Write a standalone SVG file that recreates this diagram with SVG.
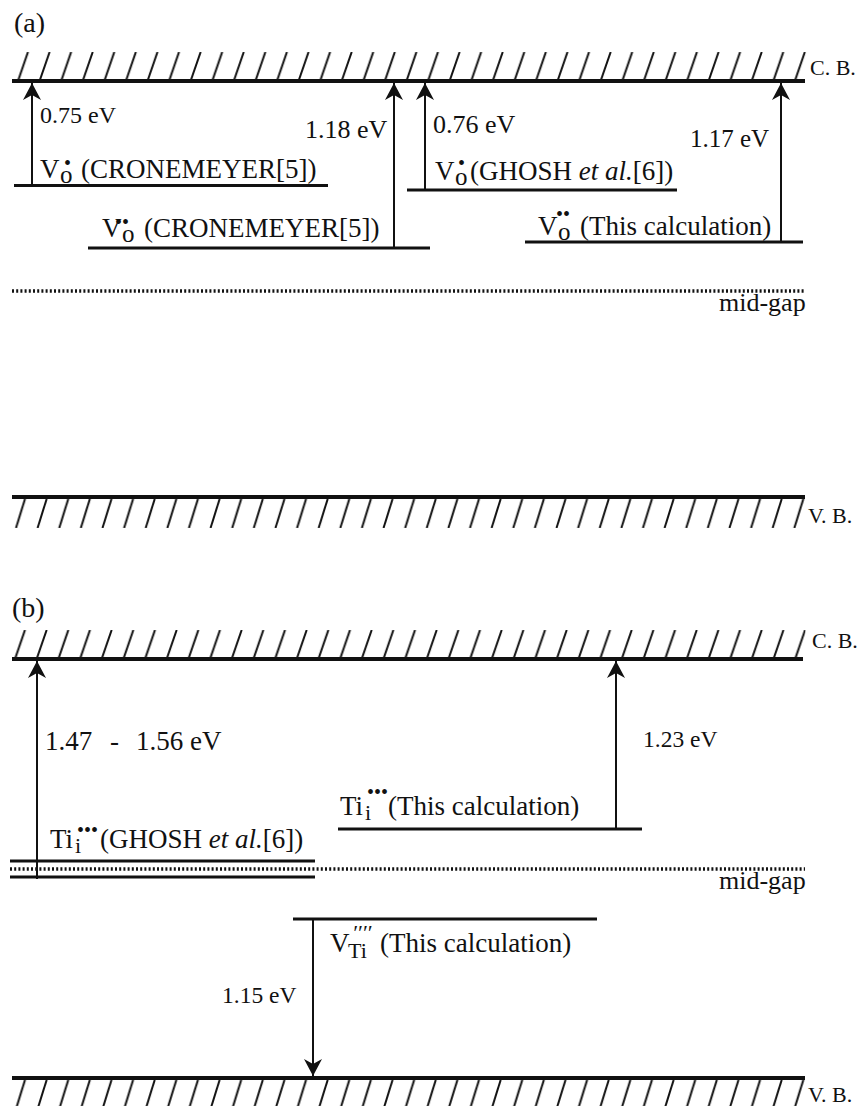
<svg xmlns="http://www.w3.org/2000/svg" width="866" height="1106" viewBox="0 0 866 1106" font-family="'Liberation Serif','Times New Roman',serif">
<style>
text{font-family:"Liberation Serif","Times New Roman",serif;fill:#111}
.band{stroke:#111;stroke-width:4;fill:none}
.lvl{stroke:#111;stroke-width:3;fill:none}
.dot{stroke:#111;stroke-width:3.5;stroke-dasharray:2 2.2;fill:none}
.arr{stroke:#111;stroke-width:2;fill:none;marker-end:url(#ah)}
.lab{font-size:27px}
.band-t{font-size:22px}
.bul{font-size:20px}
</style>
<defs>
<marker id="ah" markerUnits="userSpaceOnUse" viewBox="0 0 17 18" markerWidth="17" markerHeight="18" refX="17" refY="9" orient="auto">
<path d="M0,0 L17,9 L0,18 L5,9 z" fill="#111"/>
</marker>
<pattern id="hcA" patternUnits="userSpaceOnUse" x="16.5" y="52" width="21.58" height="29">
<line x1="1.5" y1="29" x2="11.5" y2="0" stroke="#111" stroke-width="2"/>
</pattern>
<pattern id="hvA" patternUnits="userSpaceOnUse" x="14.5" y="499" width="21.62" height="29">
<line x1="10.5" y1="0" x2="1.5" y2="29" stroke="#111" stroke-width="2"/>
</pattern>
<pattern id="hcB" patternUnits="userSpaceOnUse" x="13.5" y="630" width="21.67" height="29">
<line x1="1.5" y1="29" x2="11.5" y2="0" stroke="#111" stroke-width="2"/>
</pattern>
<pattern id="hvB" patternUnits="userSpaceOnUse" x="14.5" y="1080" width="21.62" height="29">
<line x1="10.5" y1="0" x2="1.5" y2="29" stroke="#111" stroke-width="2"/>
</pattern>
</defs>

<g id="panel-a-title"><text x="14" y="32" font-size="28">(a)</text></g>

<g id="cb-a">
<rect x="16.5" y="52" width="790" height="29" fill="url(#hcA)"/>
<line class="band" x1="12" y1="81" x2="805" y2="81"/>
<text class="band-t" x="810" y="75">C. B.</text>
</g>

<g id="lvl-a1">
<line class="lvl" x1="14" y1="185.5" x2="328" y2="185.5"/>
<text class="lab" x="40" y="178">V<tspan x="60" y="183" font-size="25">o</tspan><tspan class="bul" x="64" y="170">•</tspan><tspan x="81" y="178">(CRONEMEYER[5])</tspan></text>
</g>

<g id="lvl-a2">
<line class="lvl" x1="88" y1="248" x2="430" y2="248"/>
<text class="lab" x="102" y="237">V<tspan x="122" y="242" font-size="25">o</tspan><tspan class="bul" x="115" y="229">••</tspan><tspan x="144" y="237">(CRONEMEYER[5])</tspan></text>
</g>

<g id="lvl-a3">
<line class="lvl" x1="407" y1="190" x2="677" y2="190"/>
<text class="lab" x="435" y="180">V<tspan x="455" y="185" font-size="25">o</tspan><tspan class="bul" x="458" y="170">•</tspan><tspan x="470" y="180">(GHOSH <tspan font-style="italic">et al.</tspan>[6])</tspan></text>
</g>

<g id="lvl-a4">
<line class="lvl" x1="525" y1="242" x2="803" y2="242"/>
<text class="lab" x="538" y="235">V<tspan x="558" y="240" font-size="25">o</tspan><tspan class="bul" x="556" y="221">••</tspan><tspan x="580" y="235">(This calculation)</tspan></text>
</g>

<g id="midgap-a">
<line class="dot" x1="12" y1="291" x2="805" y2="291"/>
<text x="719" y="311" font-size="26">mid-gap</text>
</g>

<g id="vb-a">
<line class="band" x1="12" y1="497" x2="805" y2="497"/>
<rect x="14.5" y="499" width="792" height="29" fill="url(#hvA)"/>
<text class="band-t" x="808" y="523">V. B.</text>
</g>

<g id="panel-b-title"><text x="12" y="617" font-size="28">(b)</text></g>

<g id="cb-b">
<rect x="13.5" y="630" width="792" height="29" fill="url(#hcB)"/>
<line class="band" x1="12" y1="659" x2="803" y2="659"/>
<text class="band-t" x="812" y="648">C. B.</text>
</g>

<g id="lvl-b-ti-calc">
<line class="lvl" x1="338" y1="829" x2="642" y2="829"/>
<text class="lab" x="340" y="815">Ti<tspan x="365" y="820" font-size="22">i</tspan><tspan class="bul" x="367" y="799">•••</tspan><tspan x="388" y="815">(This calculation)</tspan></text>
</g>

<g id="lvl-b-ti-ghosh">
<line class="lvl" x1="10" y1="861" x2="315" y2="861"/>
<line class="lvl" x1="10" y1="877" x2="315" y2="877"/>
<text class="lab" x="50" y="848">Ti<tspan x="75" y="853" font-size="22">i</tspan><tspan class="bul" x="77" y="837">•••</tspan><tspan x="100" y="848">(GHOSH <tspan font-style="italic">et al.</tspan>[6])</tspan></text>
</g>

<g id="midgap-b">
<line class="dot" x1="10" y1="869" x2="805" y2="869"/>
<text x="719" y="889" font-size="26">mid-gap</text>
</g>

<g id="lvl-b-vti">
<line class="lvl" x1="293" y1="919" x2="597" y2="919"/>
<text class="lab" x="330" y="952">V<tspan x="348" y="958" font-size="22">Ti</tspan><tspan x="352" y="940" font-size="22" font-style="italic">′′′′</tspan><tspan x="380" y="952">(This calculation)</tspan></text>
</g>

<g id="vb-b">
<line class="band" x1="12" y1="1078" x2="805" y2="1078"/>
<rect x="14.5" y="1080" width="792" height="29" fill="url(#hvB)"/>
<text class="band-t" x="808" y="1102">V. B.</text>
</g>

<g id="connectors">
<line class="arr" x1="32" y1="185.5" x2="32" y2="83"/>
<text x="40" y="123" font-size="24">0.75 eV</text>
<line class="arr" x1="394" y1="248" x2="394" y2="83"/>
<text x="305" y="138" font-size="26">1.18 eV</text>
<line class="arr" x1="425" y1="190" x2="425" y2="83"/>
<text x="433" y="133" font-size="26">0.76 eV</text>
<line class="arr" x1="781" y1="242" x2="781" y2="83"/>
<text x="690" y="147" font-size="25">1.17 eV</text>
<line class="arr" x1="37" y1="879" x2="37" y2="661"/>
<text x="45" y="750" font-size="27">1.47<tspan x="110">-</tspan><tspan x="136">1.56 eV</tspan></text>
<line class="arr" x1="616" y1="829" x2="616" y2="661"/>
<text x="643" y="747" font-size="23.5">1.23 eV</text>
<line class="arr" x1="313" y1="919" x2="313" y2="1076"/>
<text x="222" y="1003" font-size="23.5">1.15 eV</text>
</g>
</svg>
